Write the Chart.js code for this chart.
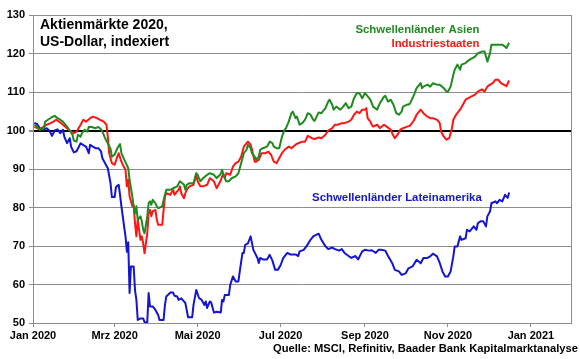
<!DOCTYPE html>
<html><head><meta charset="utf-8">
<script src="https://cdn.jsdelivr.net/npm/chart.js@4.4.1/dist/chart.umd.min.js"></script>
<style>html,body{margin:0;padding:0;background:#fff}#wrap{width:580px;height:359px}</style>
</head><body><div id="wrap"><canvas id="c" width="580" height="359"></canvas></div>
<script>
// x values: days since 1 Jan 2020
const tickDays = [0, 60, 121, 182, 244, 305, 366];
const tickLabels = ['Jan 2020','Mrz 2020','Mai 2020','Jul 2020','Sep 2020','Nov 2020','Jan 2021'];

const asiaDays = [1,3,5,8,9,11,14,16,18,20,22,25,27,29,30,32,33,35,36,38,40,41,43,46,48,50,51,53,55,57,58,60,62,64,65,67,69,70,71,73,74,75,76,77,79,80,81,82,84,85,86,87,88,90,91,92,95,97,98,101,103,106,108,111,112,113,115,118,120,121,123,125,128,130,133,135,138,139,140,142,144,146,149,151,153,155,157,158,160,161,163,164,166,167,169,172,174,176,177,179,181,183,185,186,188,190,191,193,194,196,198,200,202,204,206,207,210,212,215,217,218,220,221,223,226,228,230,232,234,236,238,240,242,244,245,248,250,253,255,258,259,261,263,265,267,269,271,272,275,277,280,282,285,286,287,290,292,294,297,299,302,304,305,307,309,310,312,314,315,318,319,321,323,325,327,330,332,333,334,336,337,340,342,345,347,348,350];
const asiaValues = [101.5,101,100.2,100.6,102.3,102.8,103.5,103.8,103.2,102.8,102.3,101,100,98.9,97.4,97.1,98.9,98.4,99.3,100.2,99.7,101,100.9,100.6,100.9,100.3,99.7,98,96.7,95.2,93.2,93.7,95.4,96.5,94.1,92.5,91,90.2,87.2,82.9,80.3,78.5,80.3,76.8,77.7,76.4,74.2,73.3,77.7,81.1,81.6,80.7,82,81.1,80.3,79.8,80.3,83.3,84.6,84.6,85,85.5,86.8,85.9,84.6,85.9,86.3,86.3,88.9,88.5,86.8,87.6,88.5,88.9,88.5,87.6,88.7,89.8,88.5,86.8,86.8,87.6,88.1,88.9,91.5,94.1,95,96.3,95.4,94.1,93.2,92.4,93.2,95,95.4,95.8,97.1,96.7,95.8,95.4,95.4,98.4,100.2,100.6,102.3,104.5,104.9,103.2,103.6,101.5,101.9,102.8,104.5,104.1,102.8,102.5,104.7,104.5,105.8,107.5,108,106.7,105.4,106.2,105.4,106.2,107.1,105.8,106.2,108.4,109.7,109.7,108.4,109.7,109.3,108,106.2,105.4,107.1,108.8,109,107.5,108,106.7,104.5,104.1,104.9,106.2,106.7,106.9,109.2,111,112.3,111,111.4,111.9,111.4,112.3,111.9,111.9,111,110.1,110.1,111.4,114.5,115.8,117.1,115.8,117.1,117.5,117.9,118.4,118.8,119.2,120.1,120.5,120.5,119.2,117.9,120.1,122.3,122.3,122.3,122.3,121.8,121.4,122.8];

const industrialDays = [1,3,5,8,10,13,15,17,20,22,25,27,30,32,35,37,39,42,44,47,49,52,54,55,56,58,60,62,63,65,66,68,69,70,71,73,74,75,76,77,78,79,80,81,82,84,85,86,87,88,90,91,92,95,96,97,98,101,103,104,106,107,108,109,111,112,113,115,118,120,121,123,125,128,130,133,135,138,139,140,141,142,145,147,149,151,153,155,157,158,160,161,163,164,166,168,171,173,175,177,179,181,183,185,188,190,193,195,198,200,202,205,207,210,212,215,217,220,222,224,227,229,232,234,236,238,240,242,244,245,246,248,249,250,253,255,258,260,263,264,266,268,270,272,275,277,280,282,285,287,290,292,294,297,299,300,302,304,306,308,309,311,314,316,318,320,322,325,327,330,332,334,336,338,340,342,344,346,348,350];
const industrialValues = [101,100.6,100.3,101,101.5,101.9,102.3,102.8,102.1,101.5,100.6,100,99.3,99.7,101.5,102.8,102.3,103.2,103.6,103.2,102.8,102.3,101.5,98.4,94.1,91.5,91.1,93.2,94.1,91.9,91.1,89.8,85.5,87.2,82.9,80.3,80.5,75.9,72.5,76.8,74.2,71.6,72.5,70.7,68.1,73.3,78.5,79.4,77.7,79,79.4,76.8,75.5,75.5,79.4,82.9,83.7,83.3,84.6,83.3,84.2,84.6,85.5,83.7,82.4,83.7,84.6,85.5,85.9,88.5,86.8,85.5,85.5,85.9,87.6,86.8,85,87,88.1,88.5,87.6,88.9,88.5,90.6,91.5,91.9,93.2,95.8,96.7,97.1,96.3,95,91.9,91.9,92.4,94.1,94.1,94.5,93.7,91.9,91.5,92.8,94.1,95,95.8,95.4,96.3,96.7,97.1,97.1,98.6,98,97.8,98.2,98,98.9,100,100.6,101.5,101.5,101.9,101.9,102.3,102.8,104.1,104.9,104.5,105.4,105.4,105.8,103.2,102.3,101.5,101,101.5,100.6,101.5,101,100.2,99.3,98,98.9,100.2,100.6,101,101.2,102.6,104.1,105.4,104.5,103.6,103.2,103.2,102.8,101.9,99.7,98.4,97.6,98,100.6,102.8,104.1,105.4,106.7,108,108.4,108.8,109.3,110.1,110.7,110.1,111.4,111.9,112.3,113.2,113.2,112.3,111.9,111.5,113];

const latamDays = [1,3,5,8,10,12,14,16,18,20,22,23,25,27,28,30,32,35,37,39,41,42,44,46,48,50,51,53,55,57,58,60,61,63,64,65,66,67,68,69,70,71,72,74,75,76,77,79,81,82,84,85,86,88,90,92,93,96,97,98,101,103,104,106,107,109,112,114,117,118,120,122,124,126,127,128,130,131,133,135,138,139,140,141,144,145,147,149,151,152,154,155,156,158,160,162,165,166,167,169,172,174,176,178,180,182,184,187,189,193,195,196,199,201,204,206,210,212,215,217,220,222,225,227,229,232,234,237,239,242,244,247,249,252,254,256,259,261,264,266,269,271,274,276,279,282,285,287,290,292,294,297,299,301,303,305,307,309,310,312,314,315,318,319,321,324,326,327,329,331,333,334,336,337,340,341,343,345,347,349,350];
const latamValues = [102,101.7,100.6,100.2,100.6,100,98.6,100,100.3,99.3,100.2,98.4,96.7,98,95.8,94.3,94.6,96.7,96.2,95.8,94.1,96.3,95.8,95.4,95.4,94.6,92.8,91.5,90.2,86.3,82.7,82.7,85.3,85.9,83.3,80.3,77.7,75,72.5,68.5,71,57.8,64.7,64.7,58.5,56,50.8,51.2,51.2,50.2,50.2,57.8,54.3,54.3,53.4,52.1,50.8,50.8,54.7,56.9,57.9,57.9,57.1,56.9,56,56.4,55.2,51.5,51.5,54.7,58.6,56.5,56,54.7,55.6,53.9,55.6,55.3,52.7,52.9,52.7,56,55.6,57.3,57.3,59.9,62.1,60.8,60.8,63.4,68.2,68.2,70.3,70.7,72.5,69,66.9,65.6,66.9,66.5,66.5,67.7,66.2,63.8,63.8,65,66.9,68.2,67.8,67.8,67.4,68.6,69,69.9,71.6,72.5,73.2,71.6,69.9,69.2,69.6,69.2,68.8,69.2,68.2,67.4,66.9,67.4,66.5,68.6,69,68.8,68.9,68.2,69,69,68.8,67.4,65.6,63.8,63.4,62.5,62.9,64.2,64.7,66.4,65.5,66.9,66.9,67.3,68,67.3,65.6,63.4,62.1,62.1,63.4,67.3,69.9,69.9,72.5,71.6,72,74.2,73.8,75.1,74.2,75.9,76.4,76.4,75.1,77.7,79,81.1,81.6,81.1,82,81.6,83.3,82.5,83.9];

const seriesNames = ['Schwellenländer Asien', 'Industriestaaten', 'Schwellenländer Lateinamerika'];

function pairs(days, vals) { return days.map((d, i) => ({ x: d, y: vals[i] })); }

const FONT = 'Liberation Sans, Arial, Helvetica, sans-serif';
const GRID = '#8c8c8c';
const COLORS = ['#1f8a1f', '#ff1414', '#1414d2'];

const annotations = {
  id: 'annotations',
  beforeDatasetsDraw(chart) {
    const { ctx, chartArea: a } = chart;
    ctx.save();
    ctx.strokeStyle = GRID; ctx.lineWidth = 1;
    ctx.beginPath();
    ctx.moveTo(a.right + 0.5, a.top); ctx.lineTo(a.right + 0.5, a.bottom);
    ctx.stroke();
    ctx.restore();
  },
  afterDatasetsDraw(chart) {
    const { ctx, chartArea: a, scales: { x, y } } = chart;
    ctx.save();
    ctx.fillStyle = '#000';
    ctx.textBaseline = 'alphabetic';
    ctx.textAlign = 'left';
    ctx.font = 'bold 14px ' + FONT;
    ctx.fillText('Aktienmärkte 2020,', a.left + 7, a.top + 13.5);
    ctx.fillText('US-Dollar, indexiert', a.left + 7, a.top + 30.5);

    ctx.font = 'bold 11.4px ' + FONT;
    ctx.textAlign = 'right';
    const labelAnchors = [[328.2, 125.4], [328.2, 121.6], [329.9, 81.6]];
    labelAnchors.forEach(([d, v], i) => {
      ctx.fillStyle = COLORS[i];
      ctx.fillText(seriesNames[i], x.getPixelForValue(d), y.getPixelForValue(v));
    });

    ctx.fillStyle = '#000';
    ctx.font = 'bold 11.2px ' + FONT;
    ctx.fillText('Quelle: MSCI, Refinitiv, Baader Bank Kapitalmarktanalyse', 578, 351.5);
    ctx.restore();
  }
};

new Chart(document.getElementById('c'), {
  type: 'line',
  data: {
    datasets: [
      { label: seriesNames[0], data: pairs(asiaDays, asiaValues), borderColor: COLORS[0] },
      { label: seriesNames[1], data: pairs(industrialDays, industrialValues), borderColor: COLORS[1] },
      { label: seriesNames[2], data: pairs(latamDays, latamValues), borderColor: COLORS[2] }
    ]
  },
  options: {
    responsive: false,
    animation: false,
    devicePixelRatio: 1,
    layout: { padding: { top: 15, right: 9, left: 0, bottom: 0 } },
    elements: {
      point: { radius: 0 },
      line: { borderWidth: 2, tension: 0, fill: false, borderJoinStyle: 'round' }
    },
    plugins: { legend: { display: false }, tooltip: { enabled: false }, title: { display: false } },
    scales: {
      x: {
        type: 'linear', min: 0, max: 395.5,
        afterBuildTicks: s => { s.ticks = tickDays.map(v => ({ value: v })); },
        afterFit: s => { s.height = 36; },
        ticks: {
          autoSkip: false, maxRotation: 0, padding: 2, color: '#000',
          font: { family: FONT, size: 11, weight: 'bold' },
          callback: v => tickLabels[tickDays.indexOf(v)]
        },
        grid: { drawOnChartArea: false, drawTicks: true, tickLength: 4, color: GRID },
        border: { display: true, color: GRID, width: 1 }
      },
      y: {
        min: 50, max: 130,
        afterFit: s => { s.width = 33; },
        ticks: {
          stepSize: 10, padding: 4, color: '#000',
          font: { family: FONT, size: 11, weight: 'bold' }
        },
        grid: {
          color: c => (c.tick && c.tick.value === 100) ? '#000' : GRID,
          lineWidth: c => (c.tick && c.tick.value === 100) ? 2 : 1,
          tickColor: GRID, tickLength: 4
        },
        border: { display: true, color: GRID, width: 1 }
      }
    }
  },
  plugins: [annotations]
});
</script>
</body></html>
